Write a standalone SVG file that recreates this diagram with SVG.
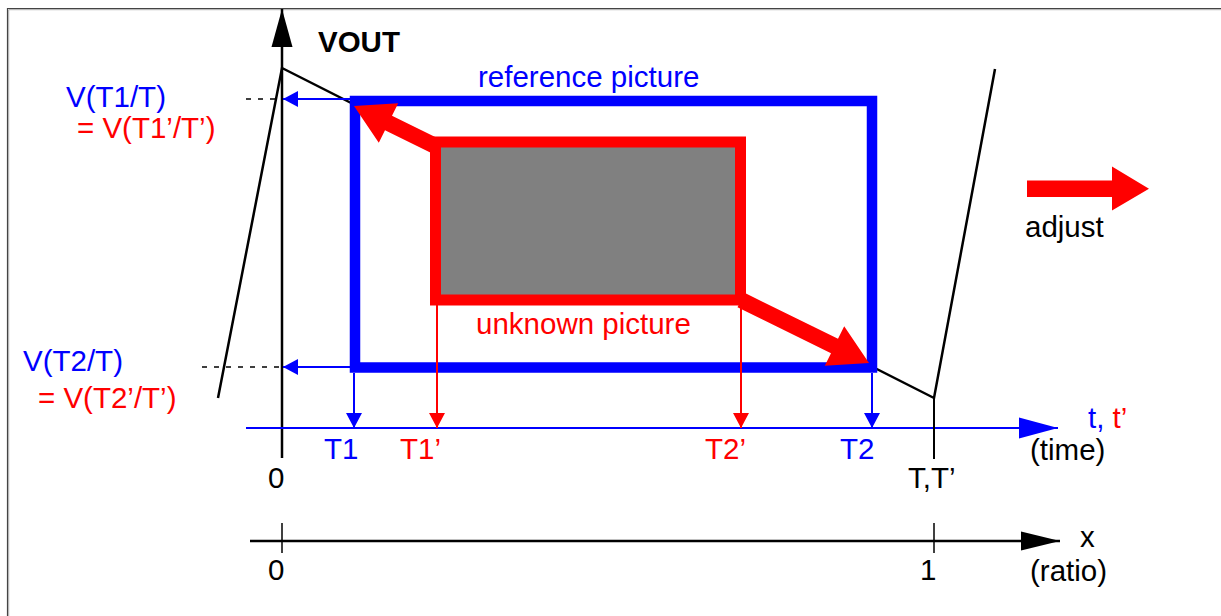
<svg xmlns="http://www.w3.org/2000/svg" width="1221" height="616" viewBox="0 0 1221 616">
<style>
text{font-family:"Liberation Sans",Arial,sans-serif;font-size:29.5px}
.b{fill:#0000ff}.r{fill:#ff0000}.k{fill:#000}
.ln{fill:none;stroke-linecap:butt}
</style>
<defs>
<marker id="ab" markerUnits="userSpaceOnUse" markerWidth="16" markerHeight="18" refX="15" refY="9" orient="auto"><path d="M0,1 L15,9 L0,17 z" fill="#0000ff"/></marker>
<marker id="ar" markerUnits="userSpaceOnUse" markerWidth="16" markerHeight="18" refX="15" refY="9" orient="auto"><path d="M0,1 L15,9 L0,17 z" fill="#ff0000"/></marker>
<marker id="abig" markerUnits="userSpaceOnUse" markerWidth="40" markerHeight="22" refX="39" refY="11" orient="auto"><path d="M0,0.5 L39,11 L0,21.5 z" fill="#0000ff"/></marker>
<marker id="kbig" markerUnits="userSpaceOnUse" markerWidth="40" markerHeight="22" refX="39" refY="11" orient="auto"><path d="M0,1.5 L39,11 L0,20.5 z" fill="#000"/></marker>
<marker id="kup" markerUnits="userSpaceOnUse" markerWidth="39" markerHeight="22" refX="38" refY="11" orient="auto"><path d="M0,0.5 L38,11 L0,21.5 z" fill="#000"/></marker>
</defs>
<rect width="1221" height="616" fill="#fff"/>
<g id="frame">
<path d="M7.5,616 V8.5 H1221" fill="none" stroke="#444" stroke-width="1.2"/>
<path d="M8.7,616 V9.7 H1221" fill="none" stroke="#aaa" stroke-width="1"/>
</g>
<g id="axes">
<line x1="282" y1="458" x2="282" y2="9" stroke="#000" stroke-width="2.5" marker-end="url(#kup)"/>
<line x1="246" y1="428" x2="1058" y2="428" stroke="#0000ff" stroke-width="2" marker-end="url(#abig)"/>
<line x1="250" y1="541" x2="1060" y2="541" stroke="#000" stroke-width="2.5" marker-end="url(#kbig)"/>
<line x1="282" y1="523" x2="282" y2="553" stroke="#000" stroke-width="1.5"/>
<line x1="934" y1="523" x2="934" y2="553" stroke="#000" stroke-width="1.5"/>
<line x1="934" y1="398" x2="934" y2="459" stroke="#000" stroke-width="2"/>
<line x1="246" y1="99" x2="282" y2="99" stroke="#000" stroke-width="1.5" stroke-dasharray="5,7"/>
<line x1="202" y1="367" x2="282" y2="367" stroke="#000" stroke-width="1.5" stroke-dasharray="5,7"/>
</g>
<g id="curve">
<polyline class="ln" points="218,398 282,68 934,398 995,69" stroke="#000" stroke-width="2.5" stroke-linejoin="miter"/>
</g>
<g id="reference-picture">
<rect x="355" y="101" width="517" height="266.5" fill="#fff" stroke="#0000ff" stroke-width="10.5"/>
</g>
<g id="unknown-picture">
<rect x="435.5" y="142" width="305" height="158" fill="#808080" stroke="#ff0000" stroke-width="11"/>
</g>
<g id="connectors">
<line x1="350" y1="99" x2="283" y2="99" stroke="#0000ff" stroke-width="2" marker-end="url(#ab)"/>
<line x1="350" y1="367" x2="283" y2="367" stroke="#0000ff" stroke-width="2" marker-end="url(#ab)"/>
<line x1="354" y1="373" x2="354" y2="428" stroke="#0000ff" stroke-width="2" marker-end="url(#ab)"/>
<line x1="872" y1="373" x2="872" y2="428" stroke="#0000ff" stroke-width="2" marker-end="url(#ab)"/>
<line x1="437" y1="305" x2="437" y2="428" stroke="#ff0000" stroke-width="2" marker-end="url(#ar)"/>
<line x1="741" y1="305" x2="741" y2="428" stroke="#ff0000" stroke-width="2" marker-end="url(#ar)"/>
<polygon points="354,106 398.2,103.3 392,115.8 441.3,140.1 434.3,154.5 385,130.2 378.8,142.7" fill="#ff0000"/>
<polygon points="869,363 824.8,365.7 831,353.2 737.5,307.2 744.5,292.8 838,338.8 844.2,326.3" fill="#ff0000"/>
<polygon points="1027,180.5 1112,180.5 1112,166.6 1149,188.7 1112,210.4 1112,197 1027,197" fill="#ff0000"/>
</g>
<g id="labels">
<text x="318" y="52" class="k" font-weight="bold" font-size="28.5">VOUT</text>
<text x="478" y="87" class="b">reference picture</text>
<text x="476" y="334" class="r">unknown picture</text>
<text x="66" y="107" class="b">V(T1/T)</text>
<text x="77" y="138" class="r">= V(T1’/T’)</text>
<text x="23" y="371" class="b">V(T2/T)</text>
<text x="38" y="408" class="r">= V(T2’/T’)</text>
<text x="1025" y="237" class="k">adjust</text>
<text x="324" y="459" class="b">T1</text>
<text x="400" y="459" class="r">T1’</text>
<text x="705" y="459" class="r">T2’</text>
<text x="840" y="459" class="b">T2</text>
<text x="1088" y="428"><tspan class="b">t,</tspan><tspan class="r"> t’</tspan></text>
<text x="1030" y="460" class="k">(time)</text>
<text x="268" y="488" class="k">0</text>
<text x="908" y="488" class="k">T,T’</text>
<text x="1080" y="547" class="k">x</text>
<text x="268" y="580" class="k">0</text>
<text x="920" y="580" class="k">1</text>
<text x="1030" y="581" class="k">(ratio)</text>
</g>
</svg>
